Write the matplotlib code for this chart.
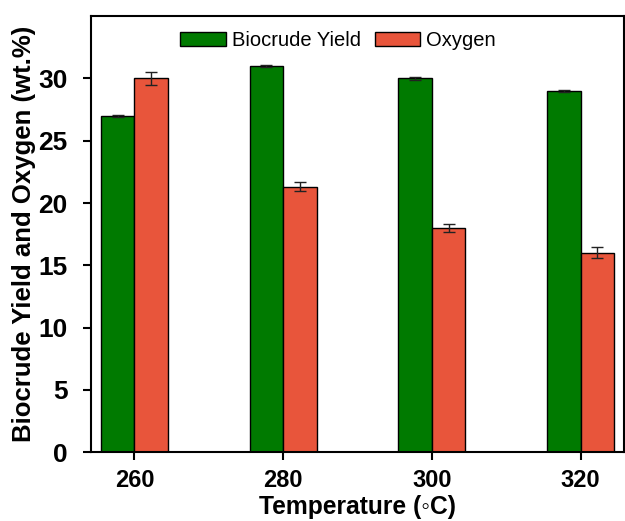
import matplotlib
matplotlib.use("Agg")
import matplotlib.pyplot as plt
import numpy as np

plt.rcParams['font.family'] = ['Liberation Sans', 'DejaVu Sans']

# data
temperatures = [260, 280, 300, 320]
biocrude_yield = [27.0, 31.0, 30.0, 29.0]
biocrude_err = [0.1, 0.1, 0.1, 0.1]
oxygen = [30.0, 21.3, 18.0, 16.0]
oxygen_err = [0.5, 0.35, 0.3, 0.45]

bar_w = 4.5
green = '#007a00'
orange = '#e8553b'

fig = plt.figure(figsize=(6.25, 5.21), dpi=100)
ax = fig.add_axes([0.145, 0.132, 0.853, 0.837])

x = np.array(temperatures, dtype=float)
err_kw = dict(ecolor='#222222', elinewidth=1, capsize=4, capthick=1)
ax.bar(x - bar_w / 2, biocrude_yield, bar_w, yerr=biocrude_err, color=green,
       edgecolor='black', linewidth=1, label='Biocrude Yield', error_kw=err_kw)
ax.bar(x + bar_w / 2, oxygen, bar_w, yerr=oxygen_err, color=orange,
       edgecolor='black', linewidth=1, label='Oxygen', error_kw=err_kw)

ax.set_xlim(254.1, 325.8)
ax.set_ylim(0, 35)
ax.set_xticks(temperatures)
ax.set_yticks(range(0, 31, 5))

for s in ax.spines.values():
    s.set_linewidth(1.5)

ax.tick_params(direction='out', length=6, width=1.5, top=False, right=False)
ax.tick_params(axis='x', labelsize=17, pad=6)
ax.tick_params(axis='y', labelsize=19, pad=10.5)
for lab in ax.get_xticklabels() + ax.get_yticklabels():
    lab.set_fontweight('bold')

ax.set_xlabel('Temperature (\u25e6C)', fontsize=17.7, fontweight='bold', labelpad=2)
ax.set_ylabel('Biocrude Yield and Oxygen (wt.%)', fontsize=18.5, fontweight='bold', labelpad=2)

ax.legend(loc='upper center', ncol=2, frameon=False, fontsize=14.5,
          bbox_to_anchor=(0.464, 1.008), handlelength=2.24, handleheight=0.7,
          columnspacing=0.7, handletextpad=0.3)

fig.savefig('out.png', dpi=100)
